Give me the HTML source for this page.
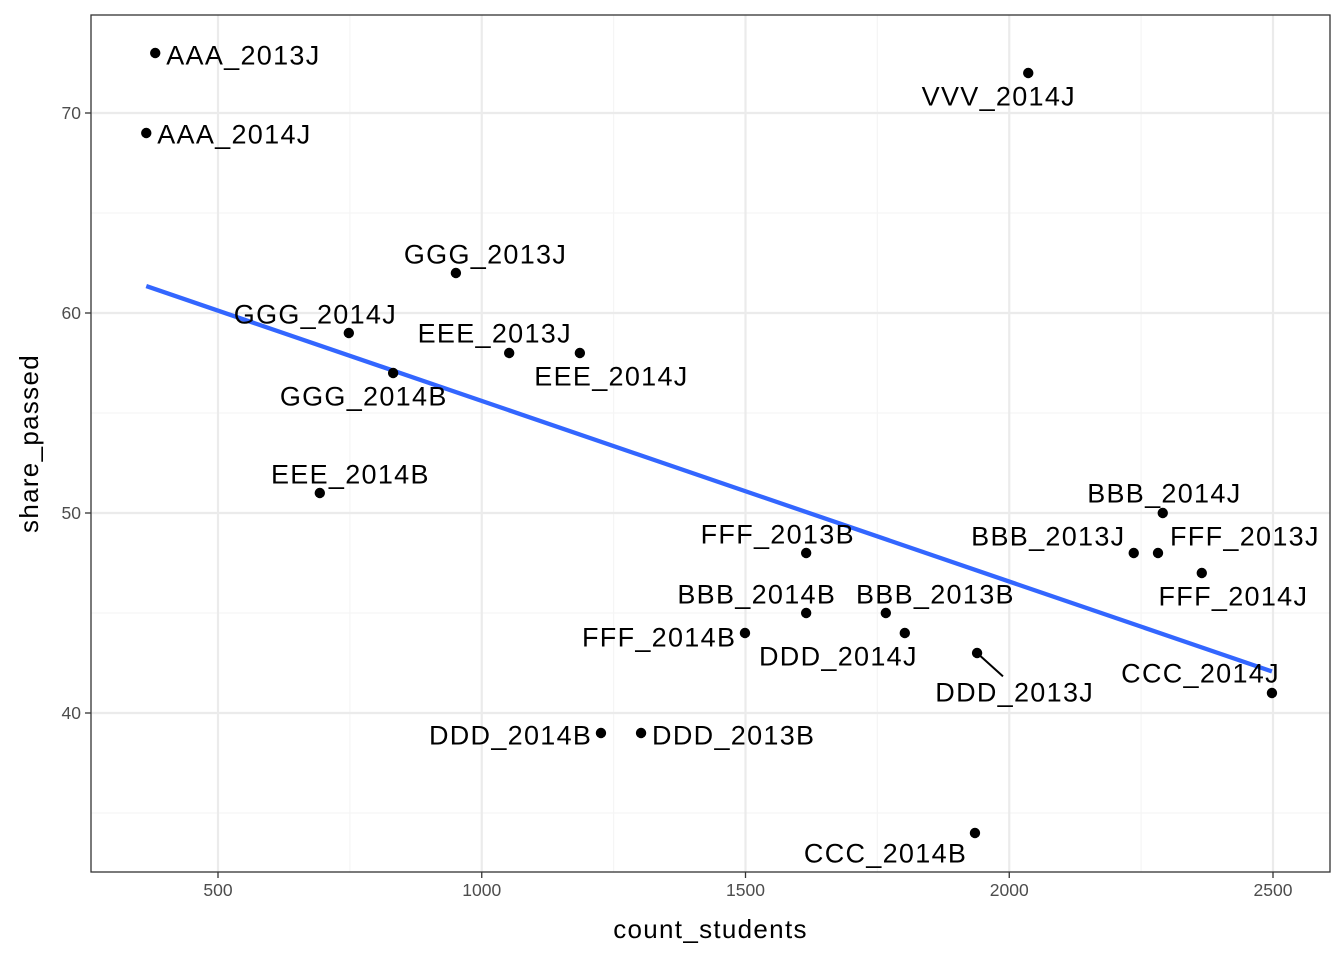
<!DOCTYPE html>
<html><head><meta charset="utf-8"><style>
html,body{margin:0;padding:0;background:#fff;}
svg{display:block;font-family:"Liberation Sans",sans-serif;}
</style></head><body>
<svg id="chart" width="1344" height="960"></svg>
<script>
const labels=["AAA_2013J","AAA_2014J","VVV_2014J","GGG_2013J","GGG_2014J","GGG_2014B","EEE_2013J","EEE_2014J","EEE_2014B","FFF_2013B","BBB_2014B","BBB_2013B","FFF_2014B","DDD_2014J","DDD_2013J","CCC_2014B","DDD_2014B","DDD_2013B","BBB_2014J","BBB_2013J","FFF_2013J","FFF_2014J","CCC_2014J"];
const countStudents=[381,364,2036,951,748,832,1052,1186,693,1615,1615,1766,1499,1802,1939,1935,1226,1302,2291,2236,2282,2365,2498];
const sharePassed=[73,69,72,62,59,57,58,58,51,48,45,45,44,44,43,34,39,39,50,48,48,47,41];
const xTicks=[500,1000,1500,2000,2500];
const yTicks=[40,50,60,70];
// label placement (offsets in px, anchor)
const lOff=[[11,2,"start"],[11,1,"start"],[-30,23,"middle"],[29,-19,"middle"],[-34,-19,"middle"],[-30,23,"middle"],[-15,-20,"middle"],[31,23,"middle"],[30,-19,"middle"],[-29,-19,"middle"],[-50,-19,"middle"],[49,-19,"middle"],[-10,4,"end"],[-67,23,"middle"],[37,39,"middle"],[-90,20,"middle"],[-10,2,"end"],[11,2,"start"],[1,-20,"middle"],[-86,-17,"middle"],[12,-17,"start"],[31,23,"middle"],[-72,-20,"middle"]];
const L=91,T=15,R=1330,B=872;
const sx=v=>218+(v-500)*0.5275;
const sy=v=>713-(v-40)*20;
const svg=document.getElementById('chart');
const NS="http://www.w3.org/2000/svg";
function mk(tag,attrs,parent){const e=document.createElementNS(NS,tag);for(const k in attrs)e.setAttribute(k,attrs[k]);(parent||svg).appendChild(e);return e;}
const panel=mk('g',{});


[750,1250,1750,2250].forEach(v=>mk('line',{x1:sx(v),x2:sx(v),y1:T,y2:B,stroke:'#f5f5f5','stroke-width':1.2},panel));
[35,45,55,65].forEach(v=>mk('line',{x1:L,x2:R,y1:sy(v),y2:sy(v),stroke:'#f5f5f5','stroke-width':1.2},panel));
xTicks.forEach(v=>mk('line',{x1:sx(v),x2:sx(v),y1:T,y2:B,stroke:'#ebebeb','stroke-width':2.2},panel));
yTicks.forEach(v=>mk('line',{x1:L,x2:R,y1:sy(v),y2:sy(v),stroke:'#ebebeb','stroke-width':2.2},panel));
const n=countStudents.length;
const mx=countStudents.reduce((a,b)=>a+b,0)/n, my=sharePassed.reduce((a,b)=>a+b,0)/n;
let sxy=0,sxx=0;for(let i=0;i<n;i++){sxy+=(countStudents[i]-mx)*(sharePassed[i]-my);sxx+=(countStudents[i]-mx)**2;}
const slope=sxy/sxx, ic=my-slope*mx;
const xmin=Math.min(...countStudents), xmax=Math.max(...countStudents);
const reg=mk('line',{x1:sx(xmin),y1:sy(ic+slope*xmin),x2:sx(xmax),y2:sy(ic+slope*xmax),stroke:'#3366ff','stroke-width':4.3});


for(let i=0;i<n;i++){
  const px=sx(countStudents[i]), py=sy(sharePassed[i]);
  const c=mk('circle',{cx:px,cy:py,r:5.2,fill:'#000'});
  
  
  const o=lOff[i];
  if(Math.abs(o[1])>30){const s=mk('line',{x1:px,y1:py,x2:px+o[0]*0.7,y2:py+o[1]*0.6,stroke:'#000','stroke-width':2});
    
    }
  const ax=o[2]==="middle"?0.6:(o[2]==="end"?1.3:0);
  const t=mk('text',{x:px+o[0]+ax,y:py+o[1]+9.5,'text-anchor':o[2],'font-size':27,fill:'#000','letter-spacing':1.3});
  t.textContent=labels[i];
  
  
}
mk('rect',{x:L,y:T,width:R-L,height:B-T,fill:'none',stroke:'#333','stroke-width':1.3});
xTicks.forEach(v=>{mk('line',{x1:sx(v),x2:sx(v),y1:B,y2:B+6,stroke:'#333','stroke-width':1.3});
  const t=mk('text',{x:sx(v),y:B+24,'text-anchor':'middle','font-size':17.5,fill:'#4d4d4d'});t.textContent=v;
  
  });
yTicks.forEach(v=>{mk('line',{x1:L-6,x2:L,y1:sy(v),y2:sy(v),stroke:'#333','stroke-width':1.3});
  const t=mk('text',{x:L-10,y:sy(v)+6,'text-anchor':'end','font-size':17.5,fill:'#4d4d4d'});t.textContent=v;
  
  });
const xt=mk('text',{x:(L+R)/2,y:938,'text-anchor':'middle','font-size':26,fill:'#000','letter-spacing':1.3});xt.textContent='count_students';


const yt=mk('text',{x:0,y:0,transform:`translate(38,${(T+B)/2}) rotate(-90)`,'text-anchor':'middle','font-size':26,fill:'#000','letter-spacing':1.3});yt.textContent='share_passed';


</script>
</body></html>
